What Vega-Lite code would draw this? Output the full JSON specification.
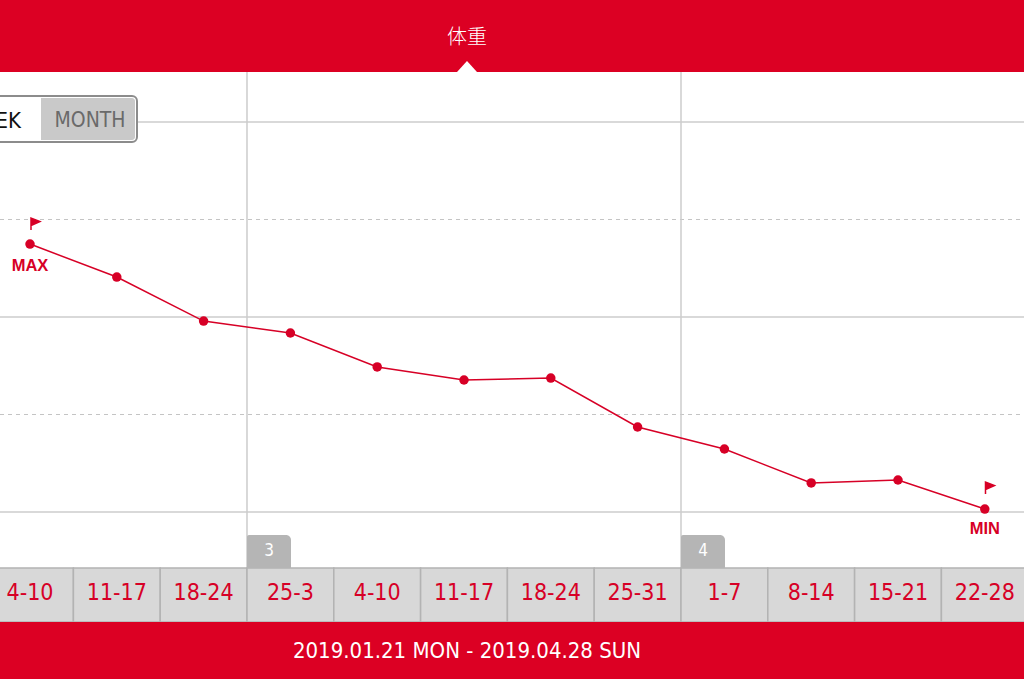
{
  "$schema": "https://vega.github.io/schema/vega-lite/v6.json",
  "description": "体重 weekly chart",
  "autosize": "none",
  "width": 1024,
  "height": 679,
  "padding": 0,
  "background": "white",
  "datasets": {
    "weeks": [
      {"i": 0, "label": "4-10", "w": 64.374},
      {"i": 1, "label": "11-17", "w": 64.205},
      {"i": 2, "label": "18-24", "w": 63.979},
      {"i": 3, "label": "25-3", "w": 63.918},
      {"i": 4, "label": "4-10", "w": 63.744},
      {"i": 5, "label": "11-17", "w": 63.677},
      {"i": 6, "label": "18-24", "w": 63.687},
      {"i": 7, "label": "25-31", "w": 63.436},
      {"i": 8, "label": "1-7", "w": 63.323},
      {"i": 9, "label": "8-14", "w": 63.149},
      {"i": 10, "label": "15-21", "w": 63.164},
      {"i": 11, "label": "22-28", "w": 63.015}
    ],
    "months": [
      {"i": 2.5, "i2": 3.007, "ti": 2.7535, "month": "3"},
      {"i": 7.5, "i2": 8.007, "ti": 7.7535, "month": "4"}
    ],
    "extremes": [
      {"i": 0.0115, "w": 64.477, "tw": 64.2615, "ti": 0, "tag": "MAX"},
      {"i": 11.008, "w": 63.123, "tw": 62.9128, "ti": 11, "tag": "MIN"}
    ]
  },
  "layer": [
    {
      "data": {"values": [{"w": 63}, {"w": 64}, {"w": 65}]},
      "mark": {"type": "rule", "color": "#cccccc", "strokeWidth": 1.5},
      "encoding": {
        "x": {"datum": -0.34562, "type": "quantitative", "axis": null, "scale": {"domain": [-0.34562, 11.45161], "nice": false, "zero": false}},
        "x2": {"datum": 11.45161},
        "y": {"field": "w", "type": "quantitative", "axis": null, "scale": {"domain": [62.14359, 65.62564], "nice": false, "zero": false}}
      }
    },
    {
      "data": {"values": [{"w": 63.5}, {"w": 64.5}]},
      "mark": {"type": "rule", "color": "#c4c4c4", "strokeWidth": 1.2, "strokeDash": [4, 4]},
      "encoding": {
        "x": {"datum": -0.34562, "type": "quantitative", "axis": null, "scale": {"domain": [-0.34562, 11.45161], "nice": false, "zero": false}},
        "x2": {"datum": 11.45161},
        "y": {"field": "w", "type": "quantitative", "axis": null, "scale": {"domain": [62.14359, 65.62564], "nice": false, "zero": false}}
      }
    },
    {
      "data": {"name": "months"},
      "mark": {"type": "rule", "color": "#cccccc", "strokeWidth": 1.5},
      "encoding": {
        "x": {"field": "i", "type": "quantitative", "axis": null, "scale": {"domain": [-0.34562, 11.45161], "nice": false, "zero": false}},
        "y": {"datum": 62.14359, "type": "quantitative", "axis": null, "scale": {"domain": [62.14359, 65.62564], "nice": false, "zero": false}},
        "y2": {"datum": 65.62564}
      }
    },
    {
      "data": {"name": "weeks"},
      "mark": {"type": "line", "color": "#d70026", "strokeWidth": 1.5},
      "encoding": {
        "x": {"field": "i", "type": "quantitative", "axis": null, "scale": {"domain": [-0.34562, 11.45161], "nice": false, "zero": false}},
        "y": {"field": "w", "type": "quantitative", "axis": null, "scale": {"domain": [62.14359, 65.62564], "nice": false, "zero": false}}
      }
    },
    {
      "data": {"name": "weeks"},
      "mark": {"type": "point", "shape": "circle", "filled": true, "opacity": 1, "color": "#d70026", "size": 90},
      "encoding": {
        "x": {"field": "i", "type": "quantitative", "axis": null, "scale": {"domain": [-0.34562, 11.45161], "nice": false, "zero": false}},
        "y": {"field": "w", "type": "quantitative", "axis": null, "scale": {"domain": [62.14359, 65.62564], "nice": false, "zero": false}}
      }
    },
    {
      "data": {"name": "extremes"},
      "mark": {"type": "point", "shape": "M0,1L0,-1L1.5,-0.4L0,0.25", "filled": true, "opacity": 1,
               "color": "#d70026", "stroke": "#d70026", "strokeWidth": 1.5, "size": 144},
      "encoding": {
        "x": {"field": "i", "type": "quantitative", "axis": null, "scale": {"domain": [-0.34562, 11.45161], "nice": false, "zero": false}},
        "y": {"field": "w", "type": "quantitative", "axis": null, "scale": {"domain": [62.14359, 65.62564], "nice": false, "zero": false}}
      }
    },
    {
      "data": {"name": "extremes"},
      "mark": {"type": "text", "color": "#d70026", "font": "Liberation Sans", "fontWeight": "bold",
               "fontSize": 16.5, "baseline": "middle", "align": "center"},
      "encoding": {
        "x": {"field": "ti", "type": "quantitative", "axis": null, "scale": {"domain": [-0.34562, 11.45161], "nice": false, "zero": false}},
        "y": {"field": "tw", "type": "quantitative", "axis": null, "scale": {"domain": [62.14359, 65.62564], "nice": false, "zero": false}},
        "text": {"field": "tag"}
      }
    },
    {
      "data": {"values": [{"i": -0.4608, "i2": 1.2327, "w": 65.1333, "w2": 64.8974}]},
      "mark": {"type": "rect", "fill": "white", "stroke": "#8c8c8c", "strokeWidth": 2, "cornerRadius": 5},
      "encoding": {
        "x": {"field": "i", "type": "quantitative", "axis": null, "scale": {"domain": [-0.34562, 11.45161], "nice": false, "zero": false}},
        "x2": {"field": "i2"},
        "y": {"field": "w", "type": "quantitative", "axis": null, "scale": {"domain": [62.14359, 65.62564], "nice": false, "zero": false}},
        "y2": {"field": "w2"}
      }
    },
    {
      "data": {"values": [{"i": 0.1267, "i2": 1.2097, "w": 65.1231, "w2": 64.9077}]},
      "mark": {"type": "rect", "fill": "#c9c9c9", "cornerRadiusTopRight": 3, "cornerRadiusBottomRight": 3},
      "encoding": {
        "x": {"field": "i", "type": "quantitative", "axis": null, "scale": {"domain": [-0.34562, 11.45161], "nice": false, "zero": false}},
        "x2": {"field": "i2"},
        "y": {"field": "w", "type": "quantitative", "axis": null, "scale": {"domain": [62.14359, 65.62564], "nice": false, "zero": false}},
        "y2": {"field": "w2"}
      }
    },
    {
      "data": {"values": [{"i": -0.1037, "w": 65.0051, "t": "EK"}]},
      "mark": {"type": "text", "font": "DejaVu Sans Condensed", "fontSize": 22, "baseline": "middle", "align": "right", "color": "#111111"},
      "encoding": {
        "x": {"field": "i", "type": "quantitative", "axis": null, "scale": {"domain": [-0.34562, 11.45161], "nice": false, "zero": false}},
        "y": {"field": "w", "type": "quantitative", "axis": null, "scale": {"domain": [62.14359, 65.62564], "nice": false, "zero": false}},
        "text": {"field": "t"}
      }
    },
    {
      "data": {"values": [{"i": 0.6912, "w": 65.0051, "t": "MONTH"}]},
      "mark": {"type": "text", "font": "DejaVu Sans Condensed", "fontSize": 21, "baseline": "middle", "align": "center", "color": "#6a6a6a"},
      "encoding": {
        "x": {"field": "i", "type": "quantitative", "axis": null, "scale": {"domain": [-0.34562, 11.45161], "nice": false, "zero": false}},
        "y": {"field": "w", "type": "quantitative", "axis": null, "scale": {"domain": [62.14359, 65.62564], "nice": false, "zero": false}},
        "text": {"field": "t"}
      }
    },
    {
      "data": {"values": [{"w": 65.62564, "w2": 65.25641}]},
      "mark": {"type": "rect", "fill": "#dc0023"},
      "encoding": {
        "x": {"datum": -0.34562, "type": "quantitative", "axis": null, "scale": {"domain": [-0.34562, 11.45161], "nice": false, "zero": false}},
        "x2": {"datum": 11.45161},
        "y": {"field": "w", "type": "quantitative", "axis": null, "scale": {"domain": [62.14359, 65.62564], "nice": false, "zero": false}},
        "y2": {"field": "w2"}
      }
    },
    {
      "data": {"values": [{"i": 5.0346, "w": 65.3128}]},
      "mark": {"type": "point", "shape": "M-1,1.1L0,0L1,1.1Z", "filled": true, "opacity": 1, "color": "white", "size": 400},
      "encoding": {
        "x": {"field": "i", "type": "quantitative", "axis": null, "scale": {"domain": [-0.34562, 11.45161], "nice": false, "zero": false}},
        "y": {"field": "w", "type": "quantitative", "axis": null, "scale": {"domain": [62.14359, 65.62564], "nice": false, "zero": false}}
      }
    },
    {
      "data": {"values": [{"i": 5.0346, "w": 65.4308, "t": "体重"}]},
      "mark": {"type": "text", "color": "white", "font": "Noto Sans CJK JP", "fontWeight": 300, "fontSize": 20,
               "baseline": "middle", "align": "center"},
      "encoding": {
        "x": {"field": "i", "type": "quantitative", "axis": null, "scale": {"domain": [-0.34562, 11.45161], "nice": false, "zero": false}},
        "y": {"field": "w", "type": "quantitative", "axis": null, "scale": {"domain": [62.14359, 65.62564], "nice": false, "zero": false}},
        "text": {"field": "t"}
      }
    },
    {
      "data": {"name": "weeks"},
      "transform": [{"calculate": "datum.i - 0.5", "as": "a"}, {"calculate": "datum.i + 0.5", "as": "b"}],
      "mark": {"type": "rect", "fill": "#d8d8d8", "stroke": "#b3b3b3", "strokeWidth": 1.5},
      "encoding": {
        "x": {"field": "a", "type": "quantitative", "axis": null, "scale": {"domain": [-0.34562, 11.45161], "nice": false, "zero": false}},
        "x2": {"field": "b"},
        "y": {"datum": 62.71282, "type": "quantitative", "axis": null, "scale": {"domain": [62.14359, 65.62564], "nice": false, "zero": false}},
        "y2": {"datum": 62.4359}
      }
    },
    {
      "data": {"name": "weeks"},
      "mark": {"type": "text", "color": "#d70026", "font": "DejaVu Sans Condensed",
               "fontSize": 23, "baseline": "middle", "align": "center"},
      "encoding": {
        "x": {"field": "i", "type": "quantitative", "axis": null, "scale": {"domain": [-0.34562, 11.45161], "nice": false, "zero": false}},
        "y": {"datum": 62.5846, "type": "quantitative", "axis": null, "scale": {"domain": [62.14359, 65.62564], "nice": false, "zero": false}},
        "text": {"field": "label"}
      }
    },
    {
      "data": {"name": "months"},
      "mark": {"type": "rect", "fill": "#b5b5b5", "cornerRadiusTopRight": 5, "cornerRadiusTopLeft": 2},
      "encoding": {
        "x": {"field": "i", "type": "quantitative", "axis": null, "scale": {"domain": [-0.34562, 11.45161], "nice": false, "zero": false}},
        "x2": {"field": "i2"},
        "y": {"datum": 62.88205, "type": "quantitative", "axis": null, "scale": {"domain": [62.14359, 65.62564], "nice": false, "zero": false}},
        "y2": {"datum": 62.71282}
      }
    },
    {
      "data": {"name": "months"},
      "mark": {"type": "text", "color": "white", "font": "DejaVu Sans Condensed",
               "fontSize": 17, "baseline": "middle", "align": "center"},
      "encoding": {
        "x": {"field": "ti", "type": "quantitative", "axis": null, "scale": {"domain": [-0.34562, 11.45161], "nice": false, "zero": false}},
        "y": {"datum": 62.8, "type": "quantitative", "axis": null, "scale": {"domain": [62.14359, 65.62564], "nice": false, "zero": false}},
        "text": {"field": "month"}
      }
    },
    {
      "data": {"values": [{"w": 62.4359, "w2": 62.14359}]},
      "mark": {"type": "rect", "fill": "#dc0023"},
      "encoding": {
        "x": {"datum": -0.34562, "type": "quantitative", "axis": null, "scale": {"domain": [-0.34562, 11.45161], "nice": false, "zero": false}},
        "x2": {"datum": 11.45161},
        "y": {"field": "w", "type": "quantitative", "axis": null, "scale": {"domain": [62.14359, 65.62564], "nice": false, "zero": false}},
        "y2": {"field": "w2"}
      }
    },
    {
      "data": {"values": [{"i": 5.0346, "w": 62.2872, "t": "2019.01.21 MON - 2019.04.28 SUN"}]},
      "mark": {"type": "text", "color": "white", "font": "DejaVu Sans Condensed",
               "fontSize": 22, "baseline": "middle", "align": "center"},
      "encoding": {
        "x": {"field": "i", "type": "quantitative", "axis": null, "scale": {"domain": [-0.34562, 11.45161], "nice": false, "zero": false}},
        "y": {"field": "w", "type": "quantitative", "axis": null, "scale": {"domain": [62.14359, 65.62564], "nice": false, "zero": false}},
        "text": {"field": "t"}
      }
    }
  ],
  "config": {"view": {"stroke": null}}
}
